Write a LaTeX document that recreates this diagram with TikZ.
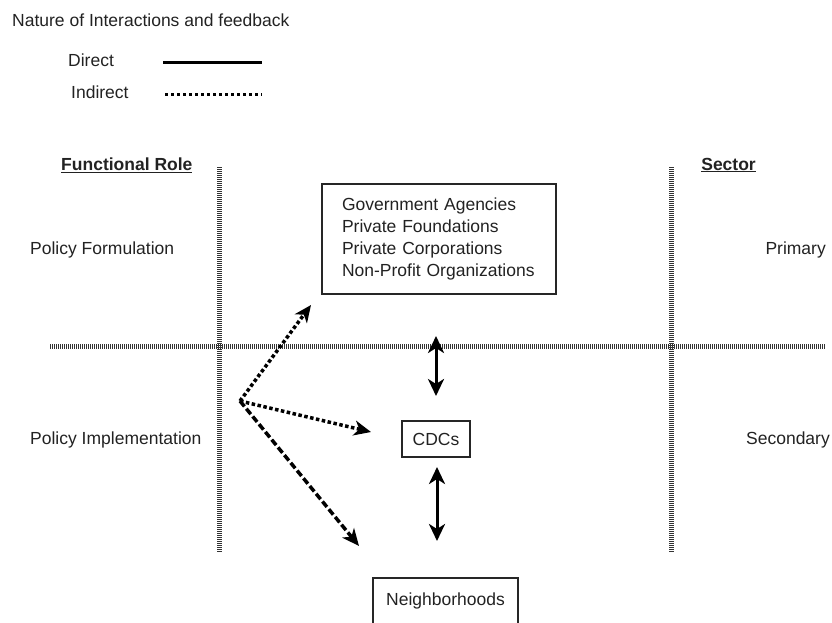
\documentclass[tikz,border=0pt]{standalone}
\usepackage{fontspec}
\setmainfont{Liberation Sans}
\usetikzlibrary{arrows.meta}
\definecolor{txt}{HTML}{222222}
\begin{document}
\begin{tikzpicture}[x=1pt,y=-1pt,
  lbl/.style={inner sep=0pt,text=txt,font=\fontsize{17.5}{22}\selectfont},
  hdr/.style={inner sep=0pt,text=txt,font=\fontsize{17.5}{22}\selectfont\bfseries},
  boxn/.style={draw=black!85,line width=1.6pt,text=txt,font=\fontsize{17.5}{22}\selectfont},
  grid/.style={draw=black!80,line width=5pt,dash pattern=on 1pt off 1pt},
  tip/.style={-{Stealth[length=17pt,width=15pt,inset=5pt]}},
  dtip/.style={{Stealth[length=17pt,width=16pt,inset=5pt]}-{Stealth[length=17pt,width=16pt,inset=5pt]}},
  solidc/.style={line width=3pt},
  dotc/.style={line width=3.5pt,dash pattern=on 3.5pt off 2.5pt},
  dashc/.style={line width=3.5pt,dash pattern=on 7pt off 3pt}]
\clip (0,0) rectangle (832,622);
\useasboundingbox (0,0) rectangle (832,622);
% legend
\node[lbl,anchor=west] (title) at (12,20) {Nature of Interactions and feedback};
\node[lbl,anchor=west] (ldirect) at (68,60) {Direct};
\node[lbl,anchor=west] (lindirect) at (71,92) {Indirect};
\coordinate (d1) at (163,62); \coordinate (d2) at (262,62);
\coordinate (i1) at (165,94); \coordinate (i2) at (262,94);
\draw[solidc] (d1) -- (d2);
\draw[line width=3pt,dash pattern=on 3pt off 3pt] (i1) -- (i2);
% grid
\coordinate (vl1) at (219,167); \coordinate (vl2) at (219,552);
\coordinate (vr1) at (671,167); \coordinate (vr2) at (671,552);
\coordinate (h1) at (50,346); \coordinate (h2) at (825,346);
\draw[grid] (vl1) -- (vl2);
\draw[grid] (vr1) -- (vr2);
\draw[grid] (h1) -- (h2);
% headers
\node[hdr,anchor=west] (frole) at (61,165) {\underline{Functional Role}};
\node[hdr,anchor=east] (sector) at (756,165) {\underline{Sector}};
\node[lbl,anchor=west] (pform) at (30,250) {Policy Formulation};
\node[lbl,anchor=east] (prim) at (826,250) {Primary};
\node[lbl,anchor=west] (pimpl) at (30,440) {Policy Implementation};
\node[lbl,anchor=east] (sec) at (830,440) {Secondary};
% boxes
\node[boxn,minimum width=234pt,minimum height=110pt,align=left,text width=194pt,inner sep=0pt] (gov) at (439,239)
  {Government Agencies\\Private Foundations\\Private Corporations\\Non-Profit Organizations};
\node[boxn,minimum width=68pt,minimum height=36pt,inner sep=0pt] (cdc) at (436,439) {CDCs};
\node[boxn,minimum width=145pt,minimum height=56pt,inner sep=0pt,anchor=north] (nbh) at (445.5,577) {};
\node[lbl] (nbhtext) at (445.5,601) {Neighborhoods};
% connectors
\coordinate (src) at (240,401);
\coordinate (e1) at (311,305);
\coordinate (e2) at (371,432);
\coordinate (e3) at (359,546);
\draw[dotc,tip] (src) -- (e1);
\draw[dotc,tip] (src) -- (e2);
\draw[dashc,tip] (src) -- (e3);
\coordinate (a1) at (436,336); \coordinate (a2) at (436,396);
\coordinate (b1) at (437,467); \coordinate (b2) at (437,541);
\draw[solidc,dtip] (a1) -- (a2);
\draw[solidc,dtip] (b1) -- (b2);
\end{tikzpicture}
\end{document}
